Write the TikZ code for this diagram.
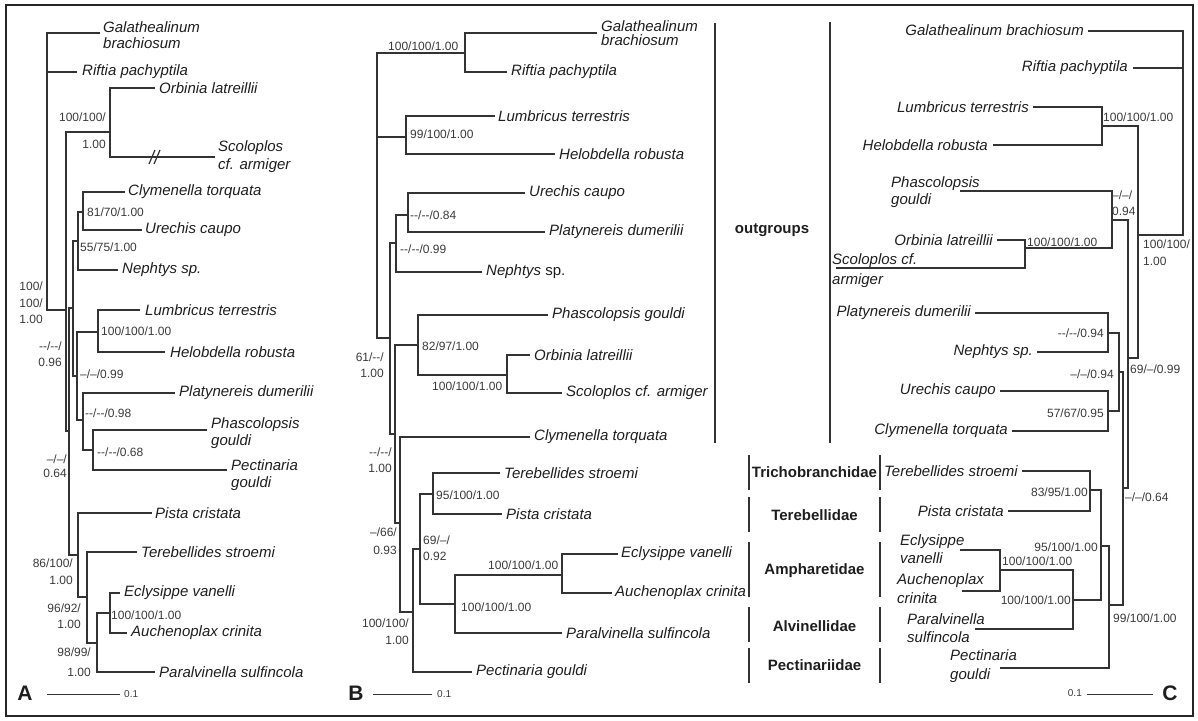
\documentclass[tikz,border=0pt]{standalone}
\usepackage{fontspec}
\setmainfont{Liberation Sans}
\definecolor{lc}{HTML}{333333}
\definecolor{tc}{HTML}{1E1E1E}
\definecolor{gc}{HTML}{3A3A3A}
\begin{document}
\begin{tikzpicture}[x=1pt,y=-1pt,
 br/.style={draw=lc,line width=1.2pt},
 tx/.style={font=\fontsize{15}{17}\selectfont\itshape,text=tc,inner sep=0pt,align=left},
 lb/.style={font=\fontsize{12}{14}\selectfont,text=gc,inner sep=0pt},
 fam/.style={font=\fontsize{15}{17}\selectfont\bfseries,text=tc,inner sep=0pt},
 pan/.style={font=\fontsize{21}{21}\selectfont\bfseries,text=tc,inner sep=0pt},
 sc/.style={font=\fontsize{10}{12}\selectfont,text=gc,inner sep=0pt}]
\useasboundingbox (0,0) rectangle (1198,720);
\draw[line width=1.6pt,draw=black!85] (6,5) rectangle (1193,716);

% ================= Panel A =================
\coordinate (Ar) at (47,170);
\coordinate (Agal) at (100,33);
\coordinate (Arif) at (77,72);
\coordinate (A1) at (66,310);
\coordinate (AOS) at (110,132);
\coordinate (Aorb) at (155,88);
\coordinate (Asco) at (215,157);
\coordinate (AY) at (69,431);
\coordinate (AX) at (73,308);
\coordinate (ACUN) at (78,241);
\coordinate (ACU) at (83,212);
\coordinate (Acly) at (125,192);
\coordinate (Aure) at (142,230);
\coordinate (Anep) at (118,270);
\coordinate (ALP) at (77,376);
\coordinate (ALH) at (98,332);
\coordinate (Alum) at (140,310);
\coordinate (Ahel) at (165,352);
\coordinate (APPP) at (83,420);
\coordinate (Apla) at (175,393);
\coordinate (APP) at (93,450);
\coordinate (Apha) at (207,430);
\coordinate (Apec) at (227,470);
\coordinate (AT) at (78,555);
\coordinate (Apis) at (152,513);
\coordinate (ATA) at (87,597);
\coordinate (Ater) at (137,552);
\coordinate (AEAP) at (97,643);
\coordinate (AEA) at (110,613);
\coordinate (Aecl) at (120,593);
\coordinate (Aauc) at (127,633);
\coordinate (Apar) at (155,672);

\draw[br] (Ar) |- (Agal) (Ar) |- (Arif) (Ar) |- (A1)
 (A1) |- (AOS) (A1) |- (AY)
 (AOS) |- (Aorb) (AOS) |- (Asco)
 (AY) |- (AX) (AY) |- (AT)
 (AX) |- (ACUN) (AX) |- (ALP)
 (ACUN) |- (ACU) (ACUN) |- (Anep)
 (ACU) |- (Acly) (ACU) |- (Aure)
 (ALP) |- (ALH) (ALP) |- (APPP)
 (ALH) |- (Alum) (ALH) |- (Ahel)
 (APPP) |- (Apla) (APPP) |- (APP)
 (APP) |- (Apha) (APP) |- (Apec)
 (AT) |- (Apis) (AT) |- (ATA)
 (ATA) |- (Ater) (ATA) |- (AEAP)
 (AEAP) |- (AEA) (AEAP) |- (Apar)
 (AEA) |- (Aecl) (AEA) |- (Aauc);
\draw[br] (149,164)--(155,150) (154,164)--(160,150);

\node[tx,anchor=west,font=\fontsize{15}{16}\selectfont\itshape] (tAgal) at (103,35) {Galathealinum\\brachiosum};
\node[tx,anchor=west] (tArif) at (82,72) {Riftia pachyptila};
\node[tx,anchor=west] (tAorb) at (159,88) {Orbinia latreillii};
\node[tx,anchor=west,font=\fontsize{15}{18}\selectfont\itshape] (tAsco) at (218,157) {Scoloplos\\cf. armiger};
\node[tx,anchor=west] (tAcly) at (128,192) {Clymenella torquata};
\node[tx,anchor=west] (tAure) at (145,230) {Urechis caupo};
\node[tx,anchor=west] (tAnep) at (122,270) {Nephtys sp.};
\node[tx,anchor=west] (tAlum) at (145,310) {Lumbricus terrestris};
\node[tx,anchor=west] (tAhel) at (170,352) {Helobdella robusta};
\node[tx,anchor=west] (tApla) at (179,393) {Platynereis dumerilii};
\node[tx,anchor=west] (tApha) at (211,433) {Phascolopsis\\gouldi};
\node[tx,anchor=west] (tApec) at (231,475) {Pectinaria\\gouldi};
\node[tx,anchor=west] (tApis) at (155,513) {Pista cristata};
\node[tx,anchor=west] (tAter) at (141,552) {Terebellides stroemi};
\node[tx,anchor=west] (tAecl) at (124,593) {Eclysippe vanelli};
\node[tx,anchor=west] (tAauc) at (131,633) {Auchenoplax crinita};
\node[tx,anchor=west] (tApar) at (159,672) {Paralvinella sulfincola};

\node[lb,anchor=east,align=right,font=\fontsize{12}{27}\selectfont] (lA1) at (106,131) {100/100/\\1.00};
\node[lb,anchor=west] (lA2) at (87,212) {81/70/1.00};
\node[lb,anchor=west] (lA3) at (80,247) {55/75/1.00};
\node[lb,anchor=east,align=right,font=\fontsize{12}{16.5}\selectfont] (lA4) at (43,303) {100/\\100/\\1.00};
\node[lb,anchor=west] (lA5) at (101,331) {100/100/1.00};
\node[lb,anchor=east,align=right,font=\fontsize{12}{16}\selectfont] (lA6) at (62,354) {-{}-/-{}-/\\0.96};
\node[lb,anchor=west] (lA7) at (80,374) {--/--/0.99};
\node[lb,anchor=west] (lA8) at (85,413) {-{}-/-{}-/0.98};
\node[lb,anchor=west] (lA9) at (97,452) {-{}-/-{}-/0.68};
\node[lb,anchor=east,align=right,font=\fontsize{12}{14}\selectfont] (lA10) at (67,466) {--/--/\\0.64};
\node[lb,anchor=east,align=right,font=\fontsize{12}{17}\selectfont] (lA11) at (73,572) {86/100/\\1.00};
\node[lb,anchor=east,align=right,font=\fontsize{12}{16}\selectfont] (lA12) at (81,616) {96/92/\\1.00};
\node[lb,anchor=east,align=right,font=\fontsize{12}{20}\selectfont] (lA13) at (91,662) {98/99/\\1.00};
\node[lb,anchor=west] (lA14) at (111,615) {100/100/1.00};

\node[pan] (pA) at (25,693) {A};
\coordinate (sA1) at (47,694);
\coordinate (sA2) at (120,694);
\draw[br,line width=1pt] (sA1) -- (sA2);
\node[sc,anchor=west] (sAt) at (124,694) {0.1};

% ================= Panel B =================
\coordinate (Br) at (377,200);
\coordinate (Bgr) at (465,53);
\coordinate (Bgal) at (597,33);
\coordinate (Brif) at (507,72);
\coordinate (Blh) at (406,137);
\coordinate (Blum) at (495,116);
\coordinate (Bhel) at (555,154);
\coordinate (B61) at (390,338);
\coordinate (Bupn) at (396,243);
\coordinate (Bup) at (408,215);
\coordinate (Bure) at (525,193);
\coordinate (Bpla) at (545,232);
\coordinate (Bnep) at (482,272);
\coordinate (B95) at (395,434);
\coordinate (Bpos) at (418,345);
\coordinate (Bpha) at (548,315);
\coordinate (Bos) at (507,375);
\coordinate (Borb) at (530,355);
\coordinate (Bsco) at (562,393);
\coordinate (B400) at (400,523);
\coordinate (Bcly) at (530,437);
\coordinate (B413) at (413,612);
\coordinate (B420) at (420,549);
\coordinate (Bpec) at (472,672);
\coordinate (Btp) at (433,494);
\coordinate (Bter) at (500,473);
\coordinate (Bpis) at (502,514);
\coordinate (Beap) at (455,604);
\coordinate (Bea) at (562,575);
\coordinate (Bpar) at (562,633);
\coordinate (Becl) at (618,554);
\coordinate (Bauc) at (612,593);

\draw[br] (Br) |- (Bgr) (Br) |- (Blh) (Br) |- (B61)
 (Bgr) |- (Bgal) (Bgr) |- (Brif)
 (Blh) |- (Blum) (Blh) |- (Bhel)
 (B61) |- (Bupn) (B61) |- (B95)
 (Bupn) |- (Bup) (Bupn) |- (Bnep)
 (Bup) |- (Bure) (Bup) |- (Bpla)
 (B95) |- (Bpos) (B95) |- (B400)
 (Bpos) |- (Bpha) (Bpos) |- (Bos)
 (Bos) |- (Borb) (Bos) |- (Bsco)
 (B400) |- (Bcly) (B400) |- (B413)
 (B413) |- (B420) (B413) |- (Bpec)
 (B420) |- (Btp) (B420) |- (Beap)
 (Btp) |- (Bter) (Btp) |- (Bpis)
 (Beap) |- (Bea) (Beap) |- (Bpar)
 (Bea) |- (Becl) (Bea) |- (Bauc);

\node[tx,anchor=west,font=\fontsize{15}{14}\selectfont\itshape] (tBgal) at (601,33) {Galathealinum\\brachiosum};
\node[tx,anchor=west] (tBrif) at (511,72) {Riftia pachyptila};
\node[tx,anchor=west] (tBlum) at (498,116) {Lumbricus terrestris};
\node[tx,anchor=west] (tBhel) at (559,154) {Helobdella robusta};
\node[tx,anchor=west] (tBure) at (529,193) {Urechis caupo};
\node[tx,anchor=west] (tBpla) at (549,232) {Platynereis dumerilii};
\node[tx,anchor=west] (tBnep) at (486,272) {Nephtys {\upshape sp.}};
\node[tx,anchor=west] (tBpha) at (552,315) {Phascolopsis gouldi};
\node[tx,anchor=west] (tBorb) at (534,355) {Orbinia latreillii};
\node[tx,anchor=west] (tBsco) at (566,393) {Scoloplos cf. armiger};
\node[tx,anchor=west] (tBcly) at (534,437) {Clymenella torquata};
\node[tx,anchor=west] (tBter) at (504,473) {Terebellides stroemi};
\node[tx,anchor=west] (tBpis) at (506,514) {Pista cristata};
\node[tx,anchor=west] (tBecl) at (621,554) {Eclysippe vanelli};
\node[tx,anchor=west] (tBauc) at (615,593) {Auchenoplax crinita};
\node[tx,anchor=west] (tBpar) at (566,633) {Paralvinella sulfincola};
\node[tx,anchor=west] (tBpec) at (476,672) {Pectinaria gouldi};

\node[lb,anchor=west] (lB1) at (388,46) {100/100/1.00};
\node[lb,anchor=west] (lB2) at (410,134) {99/100/1.00};
\node[lb,anchor=west] (lB3) at (410,215) {-{}-/-{}-/0.84};
\node[lb,anchor=west] (lB4) at (400,249) {-{}-/-{}-/0.99};
\node[lb,anchor=east,align=right,font=\fontsize{12}{16}\selectfont] (lB5) at (384,365) {61/-{}-/\\1.00};
\node[lb,anchor=west] (lB6) at (422,346) {82/97/1.00};
\node[lb,anchor=west] (lB7) at (432,386) {100/100/1.00};
\node[lb,anchor=east,align=right,font=\fontsize{12}{16}\selectfont] (lB8) at (392,460) {-{}-/-{}-/\\1.00};
\node[lb,anchor=east,align=right,font=\fontsize{12}{18}\selectfont] (lB9) at (397,541) {--/66/\\0.93};
\node[lb,anchor=west] (lB10) at (436,495) {95/100/1.00};
\node[lb,anchor=west,align=left,font=\fontsize{12}{16}\selectfont] (lB11) at (423,548) {69/--/\\0.92};
\node[lb,anchor=west] (lB12) at (488,565) {100/100/1.00};
\node[lb,anchor=west] (lB13) at (461,607) {100/100/1.00};
\node[lb,anchor=east,align=right,font=\fontsize{12}{17}\selectfont] (lB14) at (409,632) {100/100/\\1.00};

\node[pan] (pB) at (356,693) {B};
\coordinate (sB1) at (373,694);
\coordinate (sB2) at (432,694);
\draw[br,line width=1pt] (sB1) -- (sB2);
\node[sc,anchor=west] (sBt) at (437,694) {0.1};

% ================= brackets =================
\coordinate (og1a) at (715,23); \coordinate (og1b) at (715,443);
\coordinate (og2a) at (830,22); \coordinate (og2b) at (830,443);
\draw[br] (og1a) -- (og1b) (og2a) -- (og2b);
\node[fam] (fog) at (772,230) {outgroups};
\foreach \n/\t/\b/\yy/\name in {tri/455/490/472/Trichobranchidae,
  ter/497/532/515/Terebellidae, amp/542/597/571/Ampharetidae,
  alv/607/642/626/Alvinellidae, pec/648/683/665/Pectinariidae}{
  \draw[br] (749,\t) -- (749,\b) (880,\t) -- (880,\b);
  \node[fam] (f\n) at (814.5,\yy) {\name};
}

% ================= Panel C =================
\coordinate (Cr) at (1183,150);
\coordinate (Cgal) at (1088,31);
\coordinate (Crif) at (1133,68);
\coordinate (C1) at (1138,235);
\coordinate (Clh) at (1102,126);
\coordinate (Clum) at (1033,107);
\coordinate (Chel) at (993,145);
\coordinate (CX) at (1128,358);
\coordinate (Cpos) at (1112,220);
\coordinate (Cpha) at (960,191);
\coordinate (Cos) at (1025,248);
\coordinate (Corb) at (997,240);
\coordinate (Csco) at (836,268);
\coordinate (CY) at (1123,488);
\coordinate (Cpnuc) at (1119,372);
\coordinate (Cpn) at (1108,333);
\coordinate (Cpla) at (975,313);
\coordinate (Cnep) at (1037,352);
\coordinate (Cuc) at (1108,411);
\coordinate (Cure) at (1000,391);
\coordinate (Ccly) at (1012,431);
\coordinate (CT) at (1109,605);
\coordinate (Ctpe) at (1101,546);
\coordinate (Ctp) at (1090,490);
\coordinate (Cter) at (1022,471);
\coordinate (Cpis) at (1008,511);
\coordinate (Ceap) at (1073,600);
\coordinate (Cea) at (1000,570);
\coordinate (Cecl) at (960,550);
\coordinate (Cauc) at (962,591);
\coordinate (Cpar) at (975,629);
\coordinate (Cpec) at (1000,668);

\draw[br] (Cr) |- (Cgal) (Cr) |- (Crif) (Cr) |- (C1)
 (C1) |- (Clh) (C1) |- (CX)
 (Clh) |- (Clum) (Clh) |- (Chel)
 (CX) |- (Cpos) (CX) |- (CY)
 (Cpos) |- (Cpha) (Cpos) |- (Cos)
 (Cos) |- (Corb) (Cos) |- (Csco)
 (CY) |- (Cpnuc) (CY) |- (CT)
 (Cpnuc) |- (Cpn) (Cpnuc) |- (Cuc)
 (Cpn) |- (Cpla) (Cpn) |- (Cnep)
 (Cuc) |- (Cure) (Cuc) |- (Ccly)
 (CT) |- (Ctpe) (CT) |- (Cpec)
 (Ctpe) |- (Ctp) (Ctpe) |- (Ceap)
 (Ctp) |- (Cter) (Ctp) |- (Cpis)
 (Ceap) |- (Cea) (Ceap) |- (Cpar)
 (Cea) |- (Cecl) (Cea) |- (Cauc);

\node[tx,anchor=east] (tCgal) at (1084,30) {Galathealinum brachiosum};
\node[tx,anchor=east] (tCrif) at (1128,68) {Riftia pachyptila};
\node[tx,anchor=east] (tClum) at (1029,107) {Lumbricus terrestris};
\node[tx,anchor=east] (tChel) at (988,145) {Helobdella robusta};
\node[tx,anchor=west] (tCpha) at (891,192) {Phascolopsis\\gouldi};
\node[tx,anchor=east] (tCorb) at (993,240) {Orbinia latreillii};
\node[tx,anchor=west,font=\fontsize{15}{20}\selectfont\itshape] (tCsco) at (832,271) {Scoloplos cf.\\armiger};
\node[tx,anchor=east] (tCpla) at (971,313) {Platynereis dumerilii};
\node[tx,anchor=east] (tCnep) at (1033,352) {Nephtys sp.};
\node[tx,anchor=east] (tCure) at (996,391) {Urechis caupo};
\node[tx,anchor=east] (tCcly) at (1008,431) {Clymenella torquata};
\node[tx,anchor=east] (tCter) at (1018,471) {Terebellides stroemi};
\node[tx,anchor=east] (tCpis) at (1004,511) {Pista cristata};
\node[tx,anchor=west,font=\fontsize{15}{18}\selectfont\itshape] (tCecl) at (900,549) {Eclysippe\\vanelli};
\node[tx,anchor=west,font=\fontsize{15}{19}\selectfont\itshape] (tCauc) at (897,589) {Auchenoplax\\crinita};
\node[tx,anchor=west,font=\fontsize{15}{18}\selectfont\itshape] (tCpar) at (907,628) {Paralvinella\\sulfincola};
\node[tx,anchor=west,font=\fontsize{15}{19}\selectfont\itshape] (tCpec) at (950,666) {Pectinaria\\gouldi};

\node[lb,anchor=west] (lC1) at (1103,117) {100/100/1.00};
\node[lb,anchor=west,align=left,font=\fontsize{12}{16}\selectfont] (lC2) at (1112,203) {--/--/\\0.94};
\node[lb,anchor=west] (lC3) at (1027,242) {100/100/1.00};
\node[lb,anchor=west,align=left,font=\fontsize{12}{17}\selectfont] (lC4) at (1143,253) {100/100/\\1.00};
\node[lb,anchor=east] (lC5) at (1104,333) {-{}-/-{}-/0.94};
\node[lb,anchor=east] (lC6) at (1114,374) {--/--/0.94};
\node[lb,anchor=west] (lC7) at (1130,369) {69/--/0.99};
\node[lb,anchor=east] (lC8) at (1104,413) {57/67/0.95};
\node[lb,anchor=east] (lC9) at (1088,492) {83/95/1.00};
\node[lb,anchor=west] (lC10) at (1125,497) {--/--/0.64};
\node[lb,anchor=east] (lC11) at (1098,547) {95/100/1.00};
\node[lb,anchor=west] (lC12) at (1002,561) {100/100/1.00};
\node[lb,anchor=east] (lC13) at (1071,600) {100/100/1.00};
\node[lb,anchor=west] (lC14) at (1113,618) {99/100/1.00};

\node[sc,anchor=east] (sCt) at (1082,693) {0.1};
\coordinate (sC1) at (1087,694);
\coordinate (sC2) at (1153,694);
\draw[br,line width=1pt] (sC1) -- (sC2);
\node[pan] (pC) at (1170,693) {C};
\end{tikzpicture}
\end{document}
